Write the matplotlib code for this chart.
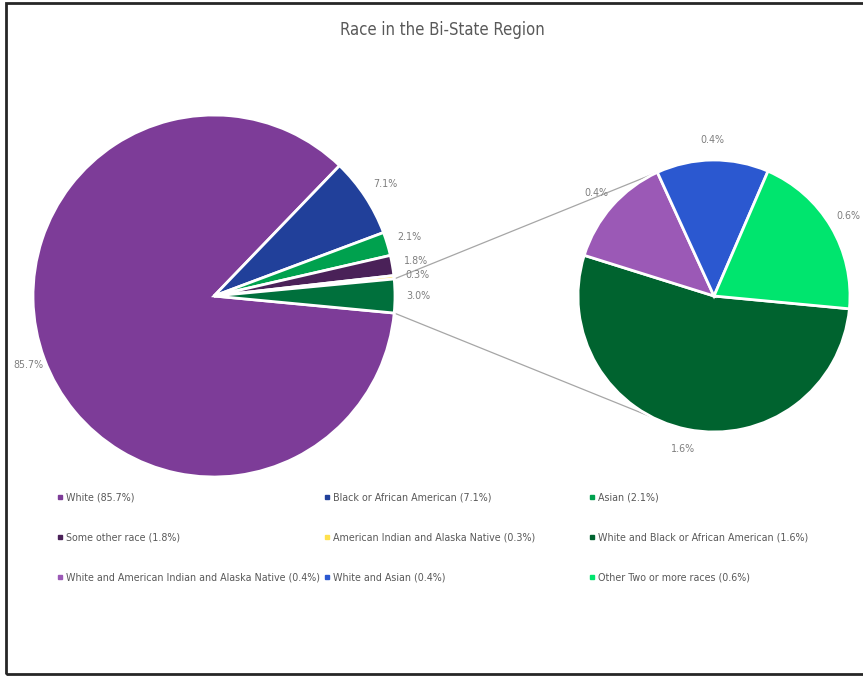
import matplotlib
matplotlib.use("Agg")
import matplotlib.pyplot as plt
import numpy as np
from matplotlib.patches import Rectangle

plt.rcParams['font.family'] = ['DejaVu Sans']
plt.rcParams['font.stretch'] = 'condensed'

# main pie (the last slice is split out into the secondary pie)
main_labels = ["White", "Black or African American", "Asian", "Some other race",
               "American Indian and Alaska Native"]
main_values = [85.7, 7.1, 2.1, 1.8, 0.3]
main_colors = ["#7D3C98", "#21409A", "#00A14E", "#4A2158", "#FFE14D"]
split_label = "Two or more races"
split_color = "#00703C"

# secondary pie: breakdown of two or more races
sub_labels = ["White and Black or African American",
              "White and American Indian and Alaska Native",
              "White and Asian", "Other Two or more races"]
sub_values = [1.6, 0.4, 0.4, 0.6]
sub_colors = ["#00632F", "#9B59B6", "#2B58D0", "#00E56E"]

# legend order (row by row, three columns)
legend_order = [
    ("White", 85.7, "#7D3C98"),
    ("Black or African American", 7.1, "#21409A"),
    ("Asian", 2.1, "#00A14E"),
    ("Some other race", 1.8, "#4A2158"),
    ("American Indian and Alaska Native", 0.3, "#FFE14D"),
    ("White and Black or African American", 1.6, "#00632F"),
    ("White and American Indian and Alaska Native", 0.4, "#9B59B6"),
    ("White and Asian", 0.4, "#2B58D0"),
    ("Other Two or more races", 0.6, "#00E56E"),
]

W, H = 863, 676
fig = plt.figure(figsize=(W / 100, H / 100), dpi=100)
ax = fig.add_axes([0, 0, 1, 1])

text_color = "#7F7F7F"
label_size = 7.7

split_total = sum(sub_values)
left_vals = main_values + [round(split_total, 1)]
left_cols = main_colors + [split_color]

# split slice centred on the horizontal axis
half_split = split_total / sum(left_vals) * 360 / 2
start = -half_split

lc = (214, H - 296)
lr = 181
wedges, texts = ax.pie(left_vals, colors=left_cols, startangle=start, counterclock=False,
                       center=lc, radius=lr, labels=[f"{v:.1f}%" for v in left_vals],
                       labeldistance=1.13, frame=True,
                       wedgeprops=dict(edgecolor="white", linewidth=2),
                       textprops=dict(color=text_color, fontsize=label_size))
for t in texts:
    t.set_ha("center")
    t.set_va("center")
# the big slice label sits a little closer in
x0, y0 = texts[0].get_position()
texts[0].set_position((lc[0] + (x0 - lc[0]) * 0.97, lc[1] + (y0 - lc[1]) * 0.97))

rc = (714, H - 296)
rr = 136
wedges2, texts2 = ax.pie(sub_values, colors=sub_colors, startangle=start, counterclock=False,
                         center=rc, radius=rr, labels=[f"{v:.1f}%" for v in sub_values],
                         labeldistance=1.15, frame=True,
                         wedgeprops=dict(edgecolor="white", linewidth=2),
                         textprops=dict(color=text_color, fontsize=label_size))
for t in texts2:
    t.set_ha("center")
    t.set_va("center")

ax.set_xlim(0, W)
ax.set_ylim(0, H)
ax.set_aspect("equal")
ax.axis("off")

# connector lines from the split slice to the secondary pie
for a1, a2 in [(half_split, 114.5), (-half_split, -116.5)]:
    p1 = (lc[0] + lr * np.cos(np.radians(a1)), lc[1] + lr * np.sin(np.radians(a1)))
    p2 = (rc[0] + rr * np.cos(np.radians(a2)), rc[1] + rr * np.sin(np.radians(a2)))
    ax.plot([p1[0], p2[0]], [p1[1], p2[1]], color="#A6A6A6", linewidth=0.9, zorder=0)

# title
ax.text(442, H - 30, "Race in the Bi-State Region", ha="center", va="center",
        fontsize=12, color="#595959")

# legend grid
col_x = [60, 327, 592]
row_y = [497, 537, 577]
for i, (name, val, col) in enumerate(legend_order):
    x = col_x[i % 3]
    y = H - row_y[i // 3]
    ax.plot([x], [y], marker="s", markersize=3.5, color=col, linestyle="none")
    ax.text(x + 6, y, f"{name} ({val}%)", ha="left", va="center",
            fontsize=label_size, color="#595959")

# chart frame
fig.patches.append(Rectangle((6 / W, 2 / H), 1.2, (H - 5) / H, transform=fig.transFigure,
                             fill=False, edgecolor="#262626", linewidth=2))

fig.savefig("out.png", dpi=100)
